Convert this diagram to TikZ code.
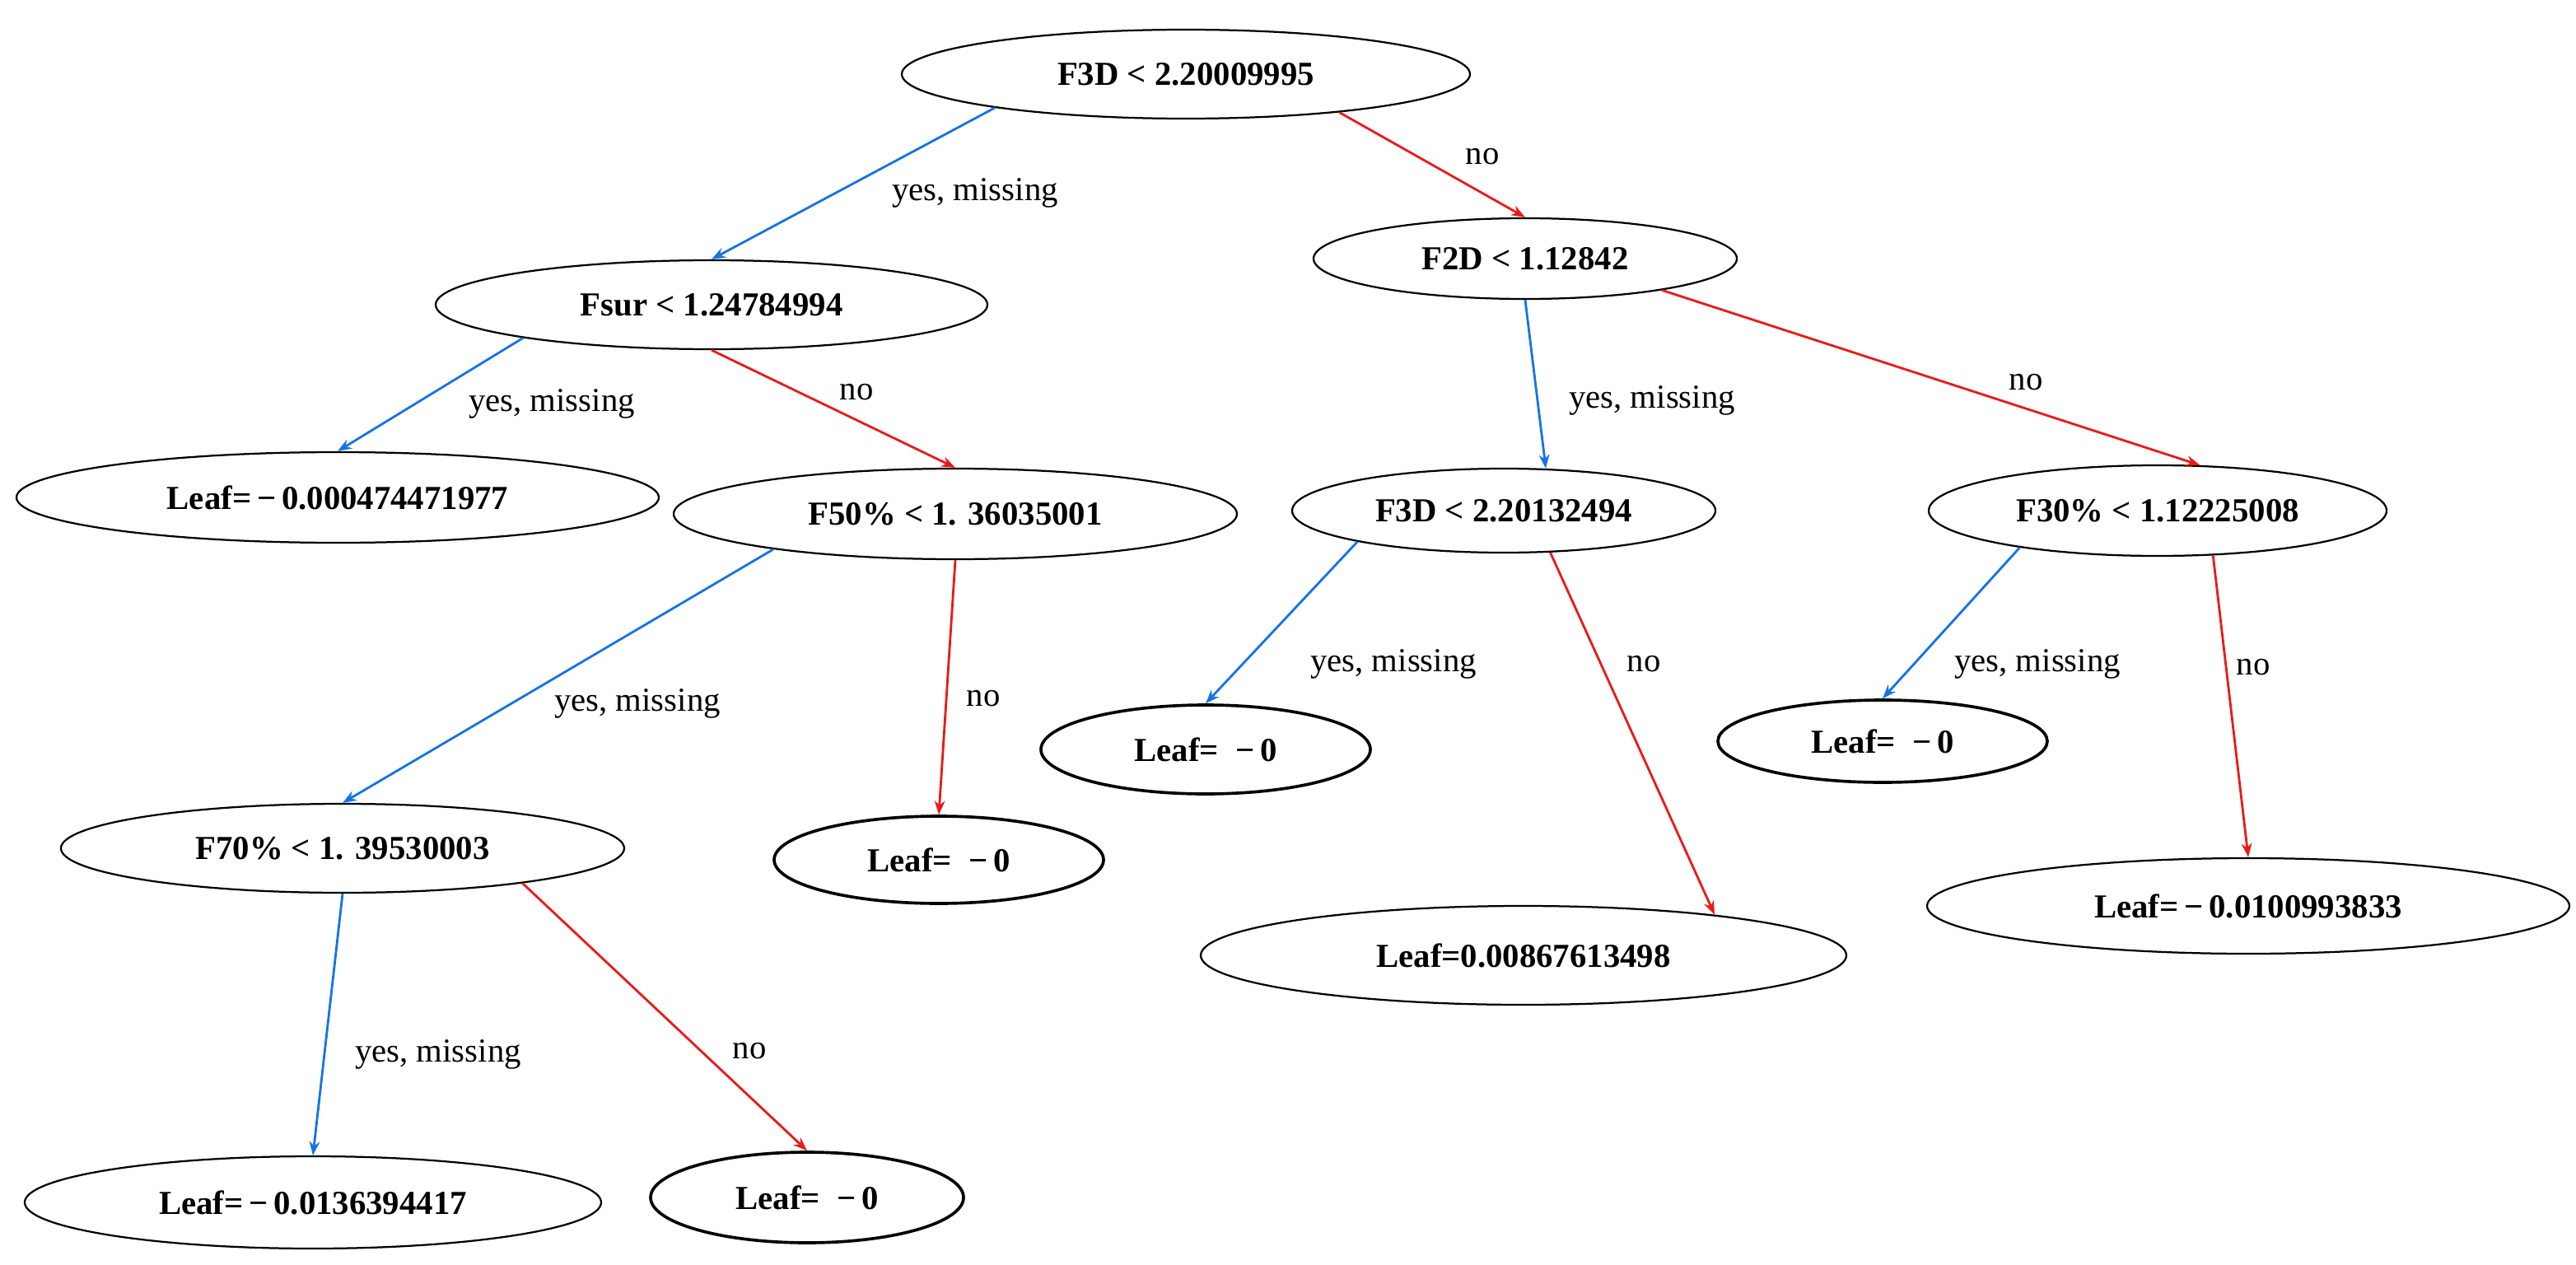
\documentclass[tikz,border=0pt]{standalone}
\usepackage{fontspec}
\setmainfont{Liberation Serif}
\usetikzlibrary{shapes.geometric,arrows.meta}
\definecolor{eblue}{RGB}{20,115,230}
\definecolor{ered}{RGB}{235,25,25}
\begin{document}
\begin{tikzpicture}[x=0.05cm,y=-0.05cm,
 nd/.style={ellipse,draw,line width=1.6pt,inner sep=0,font=\fontsize{29}{30}\selectfont\bfseries},
 thick0/.style={line width=2.6pt},
 yes/.style={eblue,line width=2pt,-{Stealth[length=12pt,width=9pt]}},
 no/.style={ered,line width=2pt,-{Stealth[length=12pt,width=9pt]}},
 lb/.style={font=\fontsize{29}{30}\selectfont}]
\useasboundingbox (0,0) rectangle (1564,768);
\node[nd,minimum width=345\pgflinewidth*0+17.25cm,minimum height=2.7cm] (r) at (720,45) {F3D < 2.20009995};
\node[nd,minimum width=12.85cm,minimum height=2.45cm] (f2d) at (926,157) {F2D < 1.12842};
\node[nd,minimum width=16.75cm,minimum height=2.7cm] (fs) at (432,185) {Fsur < 1.24784994};
\node[nd,minimum width=19.5cm,minimum height=2.75cm] (l1) at (205,302) {Leaf=\,−\,0.000474471977};
\node[nd,minimum width=17.1cm,minimum height=2.75cm] (f50) at (580,312) {F50\% < 1. 36035001};
\node[nd,minimum width=12.85cm,minimum height=2.55cm] (f3b) at (913,310) {F3D < 2.20132494};
\node[nd,minimum width=13.9cm,minimum height=2.75cm] (f30) at (1310,310) {F30\% < 1.12225008};
\node[nd,thick0,minimum width=10cm,minimum height=2.7cm] (l2) at (732,455) {Leaf=\ \ −\,0};
\node[nd,thick0,minimum width=10cm,minimum height=2.5cm] (l3) at (1143,450) {Leaf=\ \ −\,0};
\node[nd,minimum width=17.1cm,minimum height=2.7cm] (f70) at (208,515) {F70\% < 1. 39530003};
\node[nd,thick0,minimum width=10cm,minimum height=2.65cm] (l4) at (570,522) {Leaf=\ \ −\,0};
\node[nd,minimum width=19.6cm,minimum height=3cm] (l5) at (925,580) {Leaf=0.00867613498};
\node[nd,minimum width=19.5cm,minimum height=2.9cm] (l6) at (1365,550) {Leaf=\,−\,0.0100993833};
\node[nd,minimum width=17.5cm,minimum height=2.8cm] (l7) at (190,730) {Leaf=\,−\,0.0136394417};
\node[nd,thick0,minimum width=9.5cm,minimum height=2.75cm] (l8) at (490,727) {Leaf=\ \ −\,0};

\draw[yes] (r.-170) -- (fs.north);
\draw[no] (r.-14) -- (f2d.north);
\draw[yes] (fs.-170) -- (l1.north);
\draw[no] (fs.south) -- (f50.north);
\draw[yes] (f2d.south) -- (f3b.45);
\draw[no] (f2d.-13) -- (f30.47);
\draw[yes] (f50.-169) -- (f70.north);
\draw[no] (f50.south) -- (l4.north);
\draw[yes] (f3b.-168) -- (l2.north);
\draw[no] (f3b.-42) -- (l5.12);
\draw[yes] (f30.-165) -- (l3.north);
\draw[no] (f30.-39) -- (l6.north);
\draw[yes] (f70.south) -- (l7.north);
\draw[no] (f70.-11) -- (l8.north);

\node[lb] (t1) at (592,117) {yes, missing};
\node[lb] (t2) at (900,95) {no};
\node[lb] (t3) at (335,245) {yes, missing};
\node[lb] (t4) at (520,238) {no};
\node[lb] (t5) at (1003,243) {yes, missing};
\node[lb] (t6) at (1230,232) {no};
\node[lb] (t7) at (387,427) {yes, missing};
\node[lb] (t8) at (597,424) {no};
\node[lb] (t9) at (846,403) {yes, missing};
\node[lb] (t10) at (998,403) {no};
\node[lb] (t11) at (1237,403) {yes, missing};
\node[lb] (t12) at (1368,405) {no};
\node[lb] (t13) at (266,640) {yes, missing};
\node[lb] (t14) at (455,638) {no};
\end{tikzpicture}
\end{document}
